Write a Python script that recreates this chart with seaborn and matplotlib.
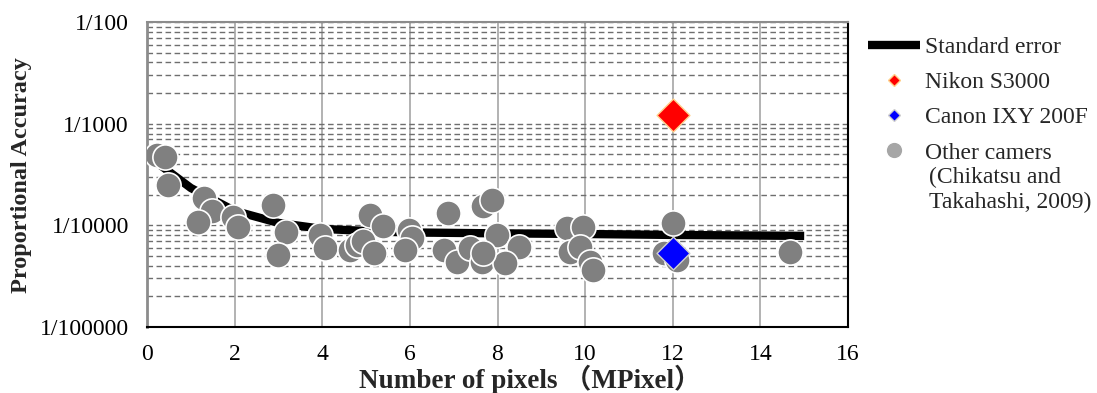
import numpy as np
import pandas as pd
import matplotlib
matplotlib.use("Agg")
import matplotlib.pyplot as plt
import seaborn as sns
from matplotlib.lines import Line2D
from matplotlib.ticker import LogLocator, NullFormatter, FixedLocator, FixedFormatter

# ---- data (accuracy expressed as 1/N; N stored) ----
se_x = [0.3, 1.0, 2.0, 3.0, 4.0, 5.0, 6.0, 8.0, 10.0, 12.0, 15.0]
se_denom = [2550, 4290, 7210, 9460, 10840, 11360, 11750, 11990, 12170, 12430, 12700]

other_x = [0.22, 0.40, 0.48, 1.29, 1.48, 1.17, 1.97, 2.08, 2.88, 3.17, 2.98,
           3.95, 4.06, 5.09, 5.39, 4.63, 4.79, 4.94, 5.17, 5.97, 6.04, 5.89,
           6.88, 6.77, 7.07, 7.37, 7.68, 7.87, 7.64, 7.98, 8.48, 8.17, 7.68,
           9.58, 9.96, 9.66, 9.89, 10.11, 10.19, 12.0, 11.8, 12.1, 14.68]
other_denom = [2030, 2140, 4000, 5400, 7300, 9200, 8300, 10400, 6300, 11500, 19500,
               12400, 16800, 7900, 10200, 17500, 15600, 14400, 18800, 11100, 13400, 17500,
               7600, 17500, 22700, 16800, 6500, 5600, 22700, 12400, 16200, 23600, 18800,
               10700, 10300, 18200, 16200, 22700, 27500, 9500, 18800, 21900, 18500]

nikon_x = [12.0]
nikon_denom = [820]
canon_x = [12.0]
canon_denom = [18800]

x_ticks = [0, 2, 4, 6, 8, 10, 12, 14, 16]
y_tick_denoms = [100000, 10000, 1000, 100]
y_tick_labels = ["1/100000", "1/10000", "1/1000", "1/100"]

legend_labels = ["Standard error", "Nikon S3000", "Canon IXY 200F", "Other camers"]
legend_sub = ["(Chikatsu and", "Takahashi, 2009)"]
x_label = "Number of pixels （MPixel）"
y_label = "Proportional Accuracy"

# ---- frames ----
se_df = pd.DataFrame({"x": se_x, "acc": 1.0 / np.array(se_denom, dtype=float)})
oth_df = pd.DataFrame({"x": other_x, "acc": 1.0 / np.array(other_denom, dtype=float)})
nik_df = pd.DataFrame({"x": nikon_x, "acc": 1.0 / np.array(nikon_denom, dtype=float)})
can_df = pd.DataFrame({"x": canon_x, "acc": 1.0 / np.array(canon_denom, dtype=float)})

sns.set_theme(style="white")
plt.rcParams["font.family"] = ["Liberation Serif", "Noto Sans CJK JP"]

W, H = 1097, 393
fig = plt.figure(figsize=(W / 100, H / 100), dpi=100)
ax = fig.add_axes([147 / W, 1 - 327 / H, (848 - 147) / W, (327 - 22) / H])
ax.set_yscale("log")

sns.lineplot(data=se_df, x="x", y="acc", ax=ax, color="black", linewidth=6,
             zorder=3, legend=False, solid_capstyle="butt")
sns.scatterplot(data=oth_df, x="x", y="acc", ax=ax, color="#808080", s=330,
                edgecolor="white", linewidth=1.2, zorder=4, legend=False)
sns.scatterplot(data=nik_df, x="x", y="acc", ax=ax, color="#ff0000", marker="D", s=280,
                edgecolor="#ffd08a", linewidth=1.0, zorder=5, legend=False)
sns.scatterplot(data=can_df, x="x", y="acc", ax=ax, color="#0000ff", marker="D", s=280,
                edgecolor="#d0d0d0", linewidth=1.0, zorder=5, legend=False)

ax.set_xlim(0, 16)
ax.set_ylim(1e-5, 1e-2)
ax.set_xticks(x_ticks)
ax.set_xticklabels([str(t) for t in x_ticks])
ax.yaxis.set_major_locator(FixedLocator([1.0 / d for d in y_tick_denoms]))
ax.yaxis.set_major_formatter(FixedFormatter(y_tick_labels))
ax.yaxis.set_minor_locator(LogLocator(base=10, subs=range(2, 10)))
ax.yaxis.set_minor_formatter(NullFormatter())

ax.grid(False)
ax.xaxis.grid(True, which="major", color="#a6a6a6", linewidth=1.2, linestyle="-", zorder=0)
ax.yaxis.grid(True, which="both", color="#6e6e6e", linewidth=1.0,
              linestyle=(0, (4, 2.5)), zorder=0)
ax.set_axisbelow(True)

ax.tick_params(axis="both", which="both", length=0, labelsize=17, colors="black")
ax.tick_params(axis="y", pad=13)
ax.tick_params(axis="x", pad=12)
ax.set_xlabel(x_label, fontsize=19.5, fontweight="bold")
ax.xaxis.label.set_va("center")
ax.xaxis.set_label_coords((530 - 147) / 701, (327 - 379) / 305)
ax.set_ylabel(y_label, fontsize=17.5, fontweight="bold")
ax.yaxis.label.set_va("center")
ax.yaxis.set_label_coords((22 - 147) / 701, (327 - 175) / 305)

for side in ["bottom", "right", "top"]:
    ax.spines[side].set_color("black")
    ax.spines[side].set_linewidth(1.5)
ax.spines["left"].set_color("#8c8c8c")
ax.spines["left"].set_linewidth(2.0)
ax.spines["top"].set_color("#8c8c8c")

handles = [
    Line2D([], [], color="black", linewidth=6, solid_capstyle="butt"),
    Line2D([], [], color="#ff0000", marker="D", linestyle="", markersize=6.5,
           markeredgecolor="#ffd08a"),
    Line2D([], [], color="#0000ff", marker="D", linestyle="", markersize=6.5,
           markeredgecolor="#d0d0d0"),
    Line2D([], [], color="#a6a6a6", marker="o", linestyle="", markersize=12,
           markeredgecolor="white"),
]
fig.legend(handles, legend_labels, loc="upper left",
           bbox_to_anchor=(866 / W, 1 - 34 / H), frameon=False, fontsize=17,
           handlelength=2.2, handletextpad=0.2, labelspacing=0.58, borderpad=0.1,
           borderaxespad=0)

fig.text(929 / W, 1 - 177 / H, legend_sub[0], fontsize=17, va="center", ha="left")
fig.text(929 / W, 1 - 202 / H, legend_sub[1], fontsize=17, va="center", ha="left")

fig.savefig("out.png", dpi=100)
